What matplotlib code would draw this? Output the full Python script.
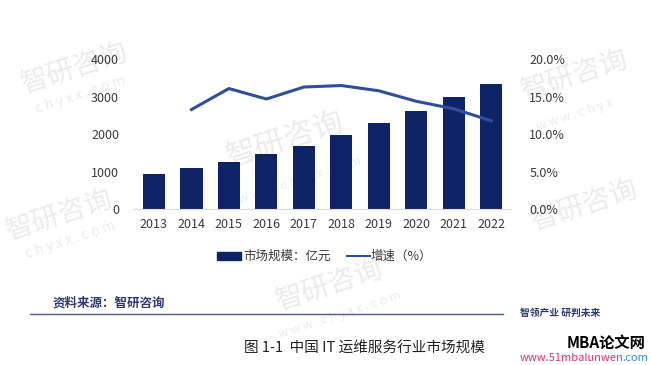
import matplotlib.pyplot as plt
from matplotlib.patches import Rectangle
from matplotlib.lines import Line2D

plt.rcParams['font.family'] = ['Noto Sans CJK SC', 'DejaVu Sans']

# Data
years = ['2013', '2014', '2015', '2016', '2017', '2018', '2019', '2020', '2021', '2022']
market_size = [950, 1100, 1270, 1470, 1680, 1980, 2310, 2620, 3000, 3350]  # 亿元
growth_years = years[1:]
growth = [13.3, 16.1, 14.7, 16.3, 16.5, 15.8, 14.4, 13.4, 11.8]  # %
left_ticks = [0, 1000, 2000, 3000, 4000]
right_ticks = [0, 5, 10, 15, 20]

bar_color = '#0f2466'
line_color = '#2f4f9a'
text_color = '#3a3a3a'

fig = plt.figure(figsize=(6.51, 3.65), dpi=100)

# faint watermarks on a background layer, behind the chart
bg = fig.add_axes([0, 0, 1, 1], zorder=-1)
bg.set_xlim(0, 651)
bg.set_ylim(365, 0)
bg.axis('off')
wm = dict(color='#ececec', rotation=18, ha='center', va='center')
bg.text(75, 68, '智研咨询', fontsize=20, **wm)
bg.text(80, 95, 'c h y x x . c o m', fontsize=10, **wm)
bg.text(285, 140, '智研咨询', fontsize=22, **wm)
bg.text(300, 180, 'w w w . c h y x x . c o m', fontsize=9, **wm)
bg.text(60, 215, '智研咨询', fontsize=20, **wm)
bg.text(70, 240, 'c h y x x . c o m', fontsize=10, **wm)
bg.text(575, 75, '智研咨询', fontsize=20, **wm)
bg.text(575, 115, 'w w w . c h y x', fontsize=9, **wm)
bg.text(585, 205, '智研咨询', fontsize=20, **wm)
bg.text(330, 285, '智研咨询', fontsize=20, **wm)
bg.text(340, 315, 'w w w . c h y x x . c o m', fontsize=9, **wm)

ax = fig.add_axes([0.2043, 0.4266, 0.579, 0.411])
ax.patch.set_alpha(0)
x = list(range(len(years)))
ax.bar(x, market_size, width=0.59, color=bar_color, zorder=2)
ax.set_ylim(0, 4000)
ax.set_xlim(-0.56, 9.5)
ax.set_yticks(left_ticks)
ax.set_yticklabels([str(v) for v in left_ticks])
ax.set_xticks(x)
ax.set_xticklabels(years)
for s in ['top', 'right', 'left']:
    ax.spines[s].set_visible(False)
ax.spines['bottom'].set_color('#d9d9d9')
ax.tick_params(axis='both', length=0, labelsize=9, labelcolor=text_color)
ax.tick_params(axis='y', pad=10)
ax.tick_params(axis='x', pad=6)

ax2 = ax.twinx()
gx = [years.index(y) for y in growth_years]
ax2.plot(gx, growth, color=line_color, linewidth=2.2, zorder=3)
ax2.set_ylim(0, 20)
ax2.set_yticks(right_ticks)
ax2.set_yticklabels([f'{v:.1f}%' for v in right_ticks])
for s in ax2.spines.values():
    s.set_visible(False)
ax2.tick_params(axis='y', length=0, labelsize=9, labelcolor=text_color, pad=14)

# legend
fig.patches.append(Rectangle((217 / 651, 1 - 260 / 365), 24 / 651, 8 / 365,
                             transform=fig.transFigure, color=bar_color))
fig.text(243 / 651, 1 - 256 / 365, '市场规模：亿元', fontsize=9, color=text_color,
         va='center', ha='left')
fig.lines.append(Line2D([347 / 651, 370 / 651], [1 - 256 / 365, 1 - 256 / 365],
                        transform=fig.transFigure, color=line_color, linewidth=1.5))
fig.text(371 / 651, 1 - 256 / 365, '增速（%）', fontsize=9, color=text_color,
         va='center', ha='left')

# source and footer
fig.text(53 / 651, 1 - 303 / 365, '资料来源：智研咨询', fontsize=9, color='#2e3a6e',
         fontweight='bold', va='center', ha='left')
fig.lines.append(Line2D([30 / 651, 503 / 651], [1 - 314 / 365, 1 - 314 / 365],
                        transform=fig.transFigure, color='#4a5a8a', linewidth=1.0))
fig.text(520 / 651, 1 - 313 / 365, '智领产业 研判未来', fontsize=7, color='#2e3a6e',
         fontweight='bold', va='center', ha='left')

fig.text(364 / 651, 1 - 349 / 365, '图 1-1  中国 IT 运维服务行业市场规模', fontsize=10.5,
         color='#222222', va='center', ha='center')
fig.text(606 / 651, 1 - 343 / 365, 'MBA论文网', fontsize=11, color='black',
         fontweight='bold', style='italic', va='center', ha='center')
fig.text(520 / 651, 1 - 358 / 365, 'www.51mbalunwen', fontsize=8, color='#e0307a',
         style='italic', va='center', ha='left')
fig.text(648 / 651, 1 - 358 / 365, '.com', fontsize=8, color='#2a8fc8',
         style='italic', va='center', ha='right')

fig.savefig('out.png', dpi=100)
